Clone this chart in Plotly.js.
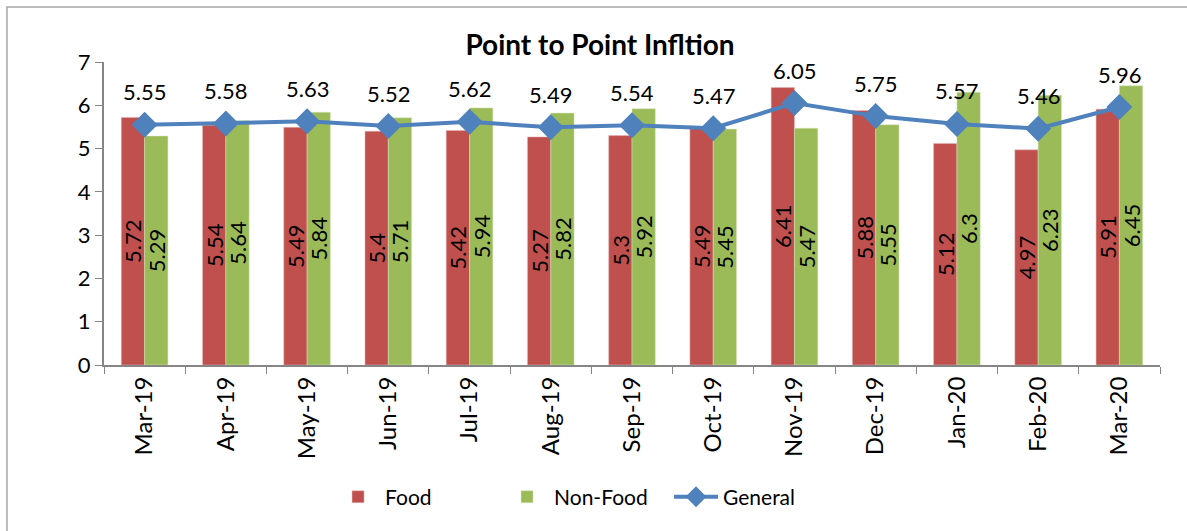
<!DOCTYPE html>
<html>
<head>
<meta charset="utf-8">
<script src="https://cdn.plot.ly/plotly-3.0.1.min.js"></script>
<style>html,body{margin:0;padding:0;background:#fff;}#chart{width:1187px;height:531px;}</style>
</head>
<body>
<div id="chart"></div>
<script>
const months = ["Mar-19","Apr-19","May-19","Jun-19","Jul-19","Aug-19","Sep-19","Oct-19","Nov-19","Dec-19","Jan-20","Feb-20","Mar-20"];
const food = [5.72,5.54,5.49,5.4,5.42,5.27,5.3,5.49,6.41,5.88,5.12,4.97,5.91];
const nonFood = [5.29,5.64,5.84,5.71,5.94,5.82,5.92,5.45,5.47,5.55,6.3,6.23,6.45];
const general = [5.55,5.58,5.63,5.52,5.62,5.49,5.54,5.47,6.05,5.75,5.57,5.46,5.96];
const yTicks = [0,1,2,3,4,5,6,7];

const FONT = "Lato, 'Liberation Sans', sans-serif";

const traces = [
  {
    type: 'bar', name: 'Food', x: months, y: food,
    marker: {color: '#C0504D', line: {color: '#E6B9B8', width: 0.5}},
    text: food.map(String), textposition: 'inside', insidetextanchor: 'middle',
    textangle: -90, constraintext: 'none',
    insidetextfont: {color: '#000000', size: 22, family: FONT},
    hoverinfo: 'skip'
  },
  {
    type: 'bar', name: 'Non-Food', x: months, y: nonFood,
    marker: {color: '#9BBB59', line: {color: '#D7E4BD', width: 0.5}},
    text: nonFood.map(String), textposition: 'inside', insidetextanchor: 'middle',
    textangle: -90, constraintext: 'none',
    insidetextfont: {color: '#000000', size: 22, family: FONT},
    hoverinfo: 'skip'
  },
  {
    type: 'scatter', mode: 'lines+markers', name: 'General', x: months, y: general,
    line: {color: '#4F81BD', width: 4},
    marker: {symbol: 'diamond', size: 20, color: '#4F81BD'},
    hoverinfo: 'skip'
  }
];

const annotations = months.map((m, i) => ({
  x: m, y: general[i], xref: 'x', yref: 'y',
  text: general[i].toFixed(2), showarrow: false, yshift: 33,
  font: {size: 22, color: '#000000', family: FONT}
}));

const layout = {
  width: 1187, height: 531,
  margin: {l: 104, r: 27, t: 62, b: 166},
  paper_bgcolor: '#ffffff', plot_bgcolor: '#ffffff',
  font: {family: FONT, color: '#000000'},
  title: {text: '<b>Point to Point Infltion</b>', x: 0.5055, xref: 'container', xanchor: 'center',
          y: 0.915, yref: 'container', yanchor: 'middle',
          font: {size: 28, family: FONT, color: '#000000'}},
  barmode: 'group', bargap: 0.426, bargroupgap: 0,
  showlegend: true,
  legend: {orientation: 'h', x: 0.215, xanchor: 'left', y: -0.436, yanchor: 'middle',
           entrywidth: 110, entrywidthmode: 'pixels',
           font: {size: 21, family: FONT, color: '#000000'}, itemwidth: 44},
  xaxis: {
    type: 'category', range: [-0.5, 12.5], tickangle: -90, tickson: 'boundaries',
    ticks: 'outside', ticklen: 7, tickcolor: '#868686',
    showline: true, linecolor: '#868686', linewidth: 2,
    tickfont: {size: 24, family: FONT, color: '#000000'},
    automargin: false, showgrid: false, zeroline: false
  },
  yaxis: {
    range: [0, 7], tickvals: yTicks, ticktext: yTicks.map(String),
    ticks: 'outside', ticklen: 7, tickcolor: '#868686',
    showline: true, linecolor: '#868686', linewidth: 2,
    tickfont: {size: 22, family: FONT, color: '#000000'},
    showgrid: false, zeroline: false, automargin: false
  },
  annotations: annotations,
  shapes: [{
    type: 'rect', xref: 'paper', yref: 'paper',
    x0: -0.0919, x1: 1.2, y0: -0.7, y1: 1.1815,
    line: {color: '#A6A6A6', width: 1.5}, fillcolor: 'rgba(0,0,0,0)', layer: 'below'
  }]
};

Plotly.newPlot('chart', traces, layout, {staticPlot: true, displayModeBar: false});
</script>
</body>
</html>
